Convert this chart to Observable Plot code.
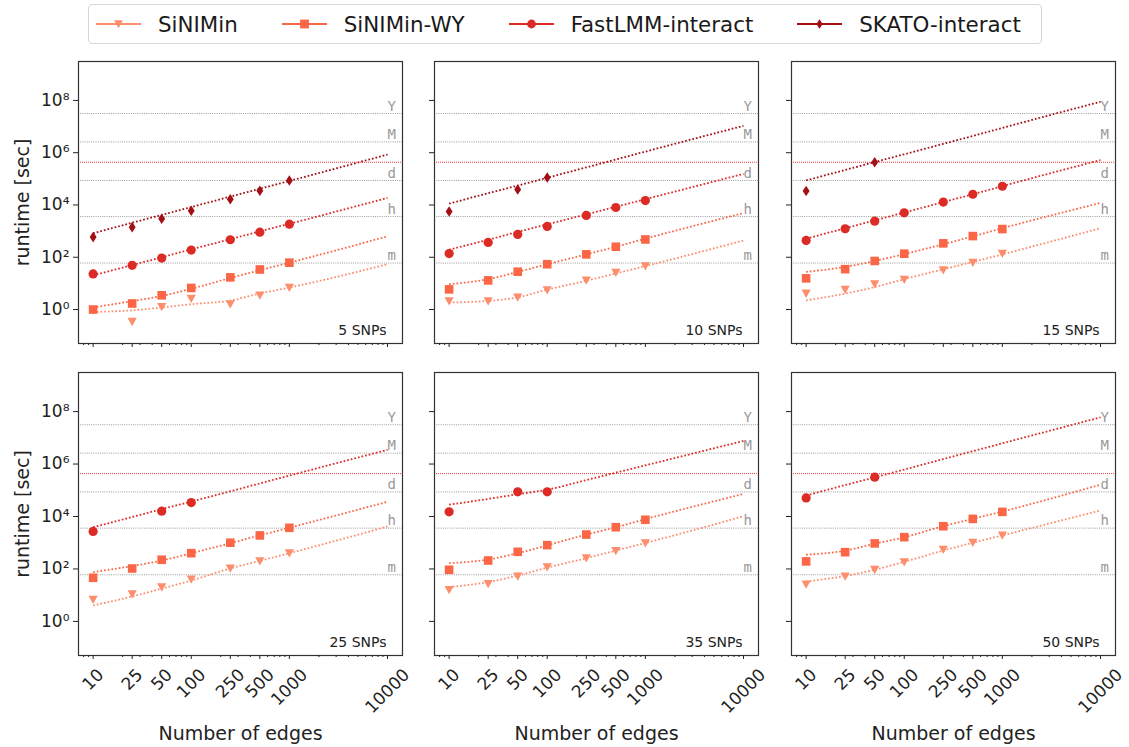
<!DOCTYPE html>
<html>
<head>
<meta charset="utf-8">
<script src="https://cdn.jsdelivr.net/npm/d3@7"></script>
<script src="https://cdn.jsdelivr.net/npm/@observablehq/plot@0.6"></script>
<style>
  body { margin: 0; background: #fff; }
  #fig { position: relative; width: 1129px; height: 747px; background: #fff; overflow: hidden; font-family: "DejaVu Sans", sans-serif; }
  #legend { position: absolute; left: 88px; top: 4px; width: 954px; height: 40px; box-sizing: border-box;
            border: 1px solid #d6d6d6; border-radius: 4px; display: flex; align-items: center; padding-left: 7px; }
  .entry { display: flex; align-items: center; margin-right: 44px; }
  .entry svg { margin-right: 17px; display: block; }
  .entry span { font-size: 21.4px; color: #1a1a1a; white-space: nowrap; }
</style>
</head>
<body>
<div id="fig"><div id="legend"></div></div>
<script>
// ---------------- data ----------------
const methods = ["SiNIMin", "SiNIMin-WY", "FastLMM-interact", "SKATO-interact"];
const colors = ["#fc8d6d", "#fb6646", "#dc2a25", "#a30f15"];
const snpCounts = [5, 10, 15, 25, 35, 50];
const edges = [10, 25, 50, 100, 250, 500, 1000];
const fitEdges = [10, 25, 50, 100, 250, 500, 1000, 10000];
const xTicks = [10, 25, 50, 100, 250, 500, 1000, 10000];
const xMinorTicks = [8, 9, 20, 30, 40, 60, 70, 80, 90, 200, 300, 400, 600, 700, 800, 900,
                     2000, 3000, 4000, 5000, 6000, 7000, 8000, 9000];
const yTicks = [1, 1e2, 1e4, 1e6, 1e8];
const yTickLabels = ["10⁰", "10²", "10⁴", "10⁶", "10⁸"];
const refValues = [60, 3600, 86400, 2592000, 31536000];
const refLabels = ["m", "h", "d", "M", "Y"];
const deadline = [432000];

// measured runtimes [sec], one row per SNP panel, columns = edges
const sinimin = [
  [0.95, 0.34, 1.26, 2.6, 1.6, 3.5, 6.9],
  [2.1, 2.1, 2.9, 5.5, 13, 26, 46],
  [4.1, 5.8, 9.3, 14, 32, 62, 137],
  [6.7, 11, 20, 40, 105, 198, 400],
  [16, 27, 52, 117, 257, 490, 960],
  [26, 52, 93, 182, 540, 1000, 1900]
];
const siniminWY = [
  [1.0, 1.7, 3.5, 6.7, 17, 34, 62],
  [5.9, 13, 28, 54, 129, 252, 480],
  [15.6, 35, 72, 137, 340, 645, 1200],
  [46, 104, 224, 400, 1000, 1900, 3700],
  [93, 210, 450, 810, 2050, 3900, 7500],
  [194, 436, 940, 1630, 4250, 8100, 15000]
];
const fastlmm = [
  [23, 49, 93, 188, 468, 912, 1850],
  [138, 370, 750, 1510, 4000, 8000, 14800],
  [440, 1230, 2400, 5000, 12900, 25700, 52000],
  [2700, null, 16000, 34000, null, null, null],
  [15000, null, 87000, 87000, null, null, null],
  [51000, null, 316000, null, null, null, null]
];
const skato = [
  [590, 1420, 2960, 6000, 16600, 35000, 86000],
  [5600, null, 39000, 112000, null, null, null],
  [34000, null, 430000, null, null, null, null],
  null, null, null
];

// fitted runtime curves [sec], columns = fitEdges
const fitSinimin = [
  [0.81, 0.93, 1.2, 1.6, 2.2, 4.1, 6.9, 54],
  [1.86, 2.14, 2.9, 5.75, 12.6, 24, 45.7, 437],
  [2.24, 4.07, 7.24, 14.5, 34.7, 66, 129, 1290],
  [4.07, 8.9, 17.8, 36, 105, 204, 398, 4170],
  [20.4, 31.6, 56, 112, 257, 501, 977, 10200],
  [33, 54, 93, 186, 501, 1000, 1905, 17000]
];
const fitSiniminWY = [
  [1.2, 2.1, 3.3, 6.2, 16, 32, 62, 630],
  [9.3, 14.5, 27.5, 54, 129, 251, 513, 4900],
  [27.5, 42.7, 72, 132, 316, 631, 1290, 12000],
  [76, 129, 209, 398, 955, 1900, 3720, 36300],
  [166, 229, 398, 794, 2040, 3890, 7940, 72400],
  [347, 501, 912, 1620, 4270, 8130, 15500, 162000]
];
const fitFastlmm = [
  [20.4, 50, 100, 200, 490, 977, 1905, 18600],
  [195, 468, 933, 1820, 4370, 8500, 16600, 155000],
  [513, 1290, 2570, 5130, 12900, 25700, 52500, 525000],
  [3890, 9550, 19000, 37000, 91000, 182000, 363000, 3470000],
  [28200, 46800, 70800, 105000, 245000, 468000, 891000, 7600000],
  [63000, 158000, 309000, 617000, 1550000, 3090000, 6170000, 60300000]
];
const fitSkato = [
  [830, 2090, 4170, 8300, 20900, 41700, 83000, 850000],
  [11200, 28200, 55000, 110000, 275000, 550000, 1100000, 10700000],
  [87000, 219000, 437000, 871000, 2190000, 4370000, 8900000, 89000000],
  null, null, null
];

// ---------------- symbols ----------------
const symTriangleDown = { draw(ctx, size) { const r = Math.sqrt(size / Math.PI);
  ctx.moveTo(-r, -r * 0.85); ctx.lineTo(r, -r * 0.85); ctx.lineTo(0, r * 0.95); ctx.closePath(); } };
const symSquare = { draw(ctx, size) { const r = Math.sqrt(size / Math.PI); ctx.rect(-r, -r, 2 * r, 2 * r); } };
const symCircle = { draw(ctx, size) { const r = Math.sqrt(size / Math.PI); ctx.moveTo(r, 0); ctx.arc(0, 0, r, 0, 2 * Math.PI); } };
const symThinDiamond = { draw(ctx, size) { const r = Math.sqrt(size / Math.PI);
  ctx.moveTo(0, -r * 1.1); ctx.lineTo(r * 0.72, 0); ctx.lineTo(0, r * 1.1); ctx.lineTo(-r * 0.72, 0); ctx.closePath(); } };

const series = [
  { name: methods[0], pts: sinimin, fit: fitSinimin, color: colors[0], symbol: symTriangleDown, r: 4.6 },
  { name: methods[1], pts: siniminWY, fit: fitSiniminWY, color: colors[1], symbol: symSquare, r: 4.3 },
  { name: methods[2], pts: fastlmm, fit: fitFastlmm, color: colors[2], symbol: symCircle, r: 4.6 },
  { name: methods[3], pts: skato, fit: fitSkato, color: colors[3], symbol: symThinDiamond, r: 4.8 }
];

// ---------------- legend ----------------
const legend = document.getElementById("legend");
series.forEach(s => {
  const e = document.createElement("div");
  e.className = "entry";
  const path = d3.symbol(s.symbol, Math.PI * 4.4 * 4.4)();
  e.innerHTML = `<svg width="45" height="18" viewBox="0 0 45 18">
      <line x1="0" x2="45" y1="9" y2="9" stroke="${s.color}" stroke-width="2"/>
      <path d="${path}" transform="translate(22.5,9)" fill="${s.color}"/>
    </svg><span>${s.name}</span>`;
  legend.appendChild(e);
});

// ---------------- panels ----------------
const fig = document.getElementById("fig");
const frameLeft = [78, 434, 791];
const frameTop = [61, 372];
const panelW = 324;
const panelH = [282, 283];
const ink = "#222";

snpCounts.forEach((snp, p) => {
  const r = Math.floor(p / 3), c = p % 3;
  const ml = c === 0 ? 78 : 20, mr = 16, mt = 10, mb = r === 0 ? 10 : 88;
  const marks = [];

  marks.push(Plot.ruleY(refValues, { stroke: "#9a9a9a", strokeWidth: 1, strokeDasharray: "1,1.2" }));
  marks.push(Plot.ruleY(deadline, { stroke: "#f03b3b", strokeWidth: 1, strokeDasharray: "1,1" }));
  marks.push(Plot.text(refValues, {
    x: () => xTicks[xTicks.length - 1], y: d => d, text: (d, i) => refLabels[i],
    textAnchor: "start", lineAnchor: "bottom", dy: -3, fill: "#999",
    fontFamily: "DejaVu Sans Mono", fontSize: 14
  }));

  series.forEach(s => {
    if (s.fit[p]) {
      const rows = fitEdges.map((e, i) => ({ edges: e, runtime: s.fit[p][i] }));
      marks.push(Plot.line(rows, { x: "edges", y: "runtime", stroke: s.color, strokeWidth: 1.8,
        strokeDasharray: "1.7,2", strokeLinecap: "butt", curve: "monotone-x" }));
    }
  });
  series.forEach(s => {
    if (s.pts[p]) {
      const rows = edges.map((e, i) => ({ edges: e, runtime: s.pts[p][i] })).filter(d => d.runtime != null);
      marks.push(Plot.dot(rows, { x: "edges", y: "runtime", fill: s.color, stroke: "none",
        symbol: s.symbol, r: s.r }));
    }
  });

  marks.push(Plot.text([`${snp} SNPs`], { frameAnchor: "bottom-right", dx: -16, dy: -9, text: d => d,
    textAnchor: "end", lineAnchor: "bottom", fontSize: 14, fill: ink }));

  marks.push(Plot.frame({ stroke: "#333", strokeWidth: 1.2 }));
  marks.push(Plot.axisY({ ticks: yTicks, tickSize: 5, tickPadding: 4, label: null,
    tickFormat: c === 0 ? (d => yTickLabels[yTicks.indexOf(d)]) : (() => ""), fontSize: 17 }));
  marks.push(Plot.axisX({ ticks: xTicks, tickSize: 4, tickFormat: () => "", label: null }));
  marks.push(Plot.axisX({ ticks: xMinorTicks, tickSize: 2, tickFormat: () => "", label: null }));

  if (r === 1) {
    xTicks.forEach(t => {
      marks.push(Plot.text([t], { x: d => d, frameAnchor: "bottom", text: d => String(d), rotate: -45,
        dy: 16.6 + 3.82 * String(t).length, textAnchor: "middle", lineAnchor: "middle", fontSize: 17, fill: ink }));
    });
    marks.push(Plot.text(["Number of edges"], { frameAnchor: "bottom", dy: 78, text: d => d,
      lineAnchor: "middle", fontSize: 19, fill: ink }));
  }
  if (c === 0) {
    marks.push(Plot.text(["runtime [sec]"], { frameAnchor: "left", dx: -56, rotate: -90, text: d => d,
      textAnchor: "middle", lineAnchor: "middle", fontSize: 19, fill: ink }));
  }

  const svg = Plot.plot({
    width: ml + panelW + mr, height: mt + panelH[r] + mb,
    marginLeft: ml, marginRight: mr, marginTop: mt, marginBottom: mb,
    x: { type: "log", domain: [7.096, 14223] },
    y: { type: "log", domain: [0.0501, 3.09e9] },
    style: { background: "transparent", fontFamily: "DejaVu Sans", fontSize: "17px", color: ink, overflow: "visible" },
    marks
  });
  svg.style.position = "absolute";
  svg.style.left = (frameLeft[c] - ml) + "px";
  svg.style.top = (frameTop[r] - mt) + "px";
  svg.style.maxWidth = "none";
  fig.appendChild(svg);
});
</script>
</body>
</html>
